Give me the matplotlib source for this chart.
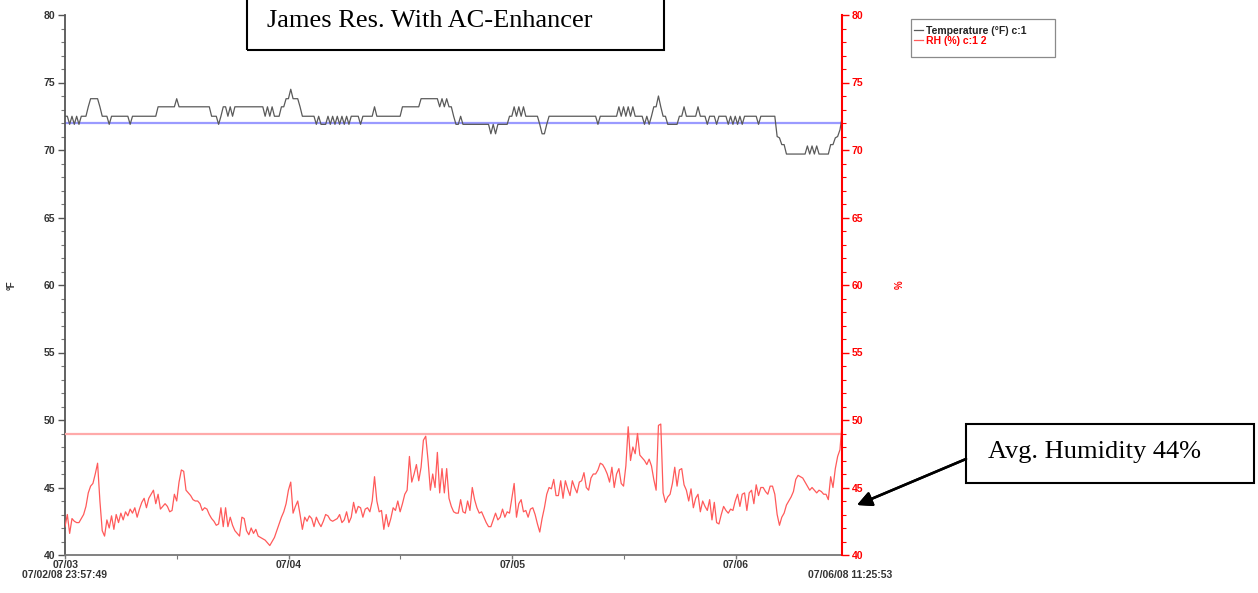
import numpy as np
import pandas as pd
import matplotlib
matplotlib.use("Agg")
import matplotlib.pyplot as plt
import matplotlib.dates as mdates
from matplotlib.patches import Rectangle

# logger run, one reading every 15 min
start = "2008-07-02 23:57:49"
end = "2008-07-06 11:25:53"
interval = "15min"

temp_f = [
    72.5, 72.5, 71.9, 72.5, 71.9, 72.5, 71.9, 72.5, 72.5, 72.5,
    73.2, 73.8, 73.8, 73.8, 73.8, 73.2, 72.5, 72.5, 72.5, 71.9,
    72.5, 72.5, 72.5, 72.5, 72.5, 72.5, 72.5, 72.5, 71.9, 72.5,
    72.5, 72.5, 72.5, 72.5, 72.5, 72.5, 72.5, 72.5, 72.5, 72.5,
    73.2, 73.2, 73.2, 73.2, 73.2, 73.2, 73.2, 73.2, 73.8, 73.2,
    73.2, 73.2, 73.2, 73.2, 73.2, 73.2, 73.2, 73.2, 73.2, 73.2,
    73.2, 73.2, 73.2, 72.5, 72.5, 72.5, 71.9, 72.5, 73.2, 73.2,
    72.5, 73.2, 72.5, 73.2, 73.2, 73.2, 73.2, 73.2, 73.2, 73.2,
    73.2, 73.2, 73.2, 73.2, 73.2, 73.2, 72.5, 73.2, 72.5, 73.2,
    72.5, 72.5, 72.5, 73.2, 73.2, 73.8, 73.8, 74.5, 73.8, 73.8,
    73.8, 73.2, 72.5, 72.5, 72.5, 72.5, 72.5, 72.5, 71.9, 72.5,
    71.9, 71.9, 71.9, 72.5, 71.9, 72.5, 71.9, 72.5, 71.9, 72.5,
    71.9, 72.5, 71.9, 72.5, 72.5, 72.5, 72.5, 71.9, 72.5, 72.5,
    72.5, 72.5, 72.5, 73.2, 72.5, 72.5, 72.5, 72.5, 72.5, 72.5,
    72.5, 72.5, 72.5, 72.5, 72.5, 73.2, 73.2, 73.2, 73.2, 73.2,
    73.2, 73.2, 73.2, 73.8, 73.8, 73.8, 73.8, 73.8, 73.8, 73.8,
    73.8, 73.2, 73.8, 73.2, 73.8, 73.2, 73.2, 72.5, 71.9, 71.9,
    72.5, 71.9, 71.9, 71.9, 71.9, 71.9, 71.9, 71.9, 71.9, 71.9,
    71.9, 71.9, 71.9, 71.2, 71.9, 71.2, 71.9, 71.9, 71.9, 71.9,
    71.9, 72.5, 72.5, 73.2, 72.5, 73.2, 72.5, 73.2, 72.5, 72.5,
    72.5, 72.5, 72.5, 72.5, 71.9, 71.2, 71.2, 71.9, 72.5, 72.5,
    72.5, 72.5, 72.5, 72.5, 72.5, 72.5, 72.5, 72.5, 72.5, 72.5,
    72.5, 72.5, 72.5, 72.5, 72.5, 72.5, 72.5, 72.5, 72.5, 71.9,
    72.5, 72.5, 72.5, 72.5, 72.5, 72.5, 72.5, 72.5, 73.2, 72.5,
    73.2, 72.5, 73.2, 72.5, 73.2, 72.5, 72.5, 72.5, 72.5, 71.9,
    72.5, 71.9, 72.5, 73.2, 73.2, 74.0, 73.2, 72.5, 72.5, 71.9,
    71.9, 71.9, 71.9, 71.9, 72.5, 72.5, 73.2, 72.5, 72.5, 72.5,
    72.5, 72.5, 73.2, 72.5, 72.5, 72.5, 71.9, 72.5, 72.5, 72.5,
    71.9, 72.5, 72.5, 72.5, 72.5, 71.9, 72.5, 71.9, 72.5, 71.9,
    72.5, 71.9, 72.5, 72.5, 72.5, 72.5, 72.5, 72.5, 71.9, 72.5,
    72.5, 72.5, 72.5, 72.5, 72.5, 72.5, 71.0, 70.9, 70.4, 70.4,
    69.7, 69.7, 69.7, 69.7, 69.7, 69.7, 69.7, 69.7, 69.7, 70.3,
    69.7, 70.3, 69.7, 70.3, 69.7, 69.7, 69.7, 69.7, 69.7, 70.4,
    70.4, 70.9, 71.0, 71.5, 72.5,
]

rh_pct = [
    42.1, 43.0, 41.6, 42.7, 42.5, 42.4, 42.4, 42.7, 43.0, 43.6,
    44.6, 45.1, 45.3, 46.0, 46.8, 44.0, 41.8, 41.4, 42.6, 42.0,
    42.9, 41.9, 43.0, 42.4, 43.1, 42.6, 43.2, 42.9, 43.4, 43.1,
    43.5, 42.8, 43.4, 43.9, 44.2, 43.5, 44.2, 44.5, 44.8, 43.8,
    44.5, 43.4, 43.6, 43.8, 43.6, 43.2, 43.3, 44.5, 44.0, 45.4,
    46.3, 46.2, 44.8, 44.6, 44.4, 44.1, 44.0, 44.0, 43.8, 43.3,
    43.5, 43.4, 43.0, 42.7, 42.5, 42.2, 42.3, 43.5, 42.1, 43.5,
    42.1, 42.8, 42.2, 41.8, 41.6, 41.4, 42.8, 42.7, 41.8, 41.5,
    42.0, 41.6, 41.9, 41.4, 41.3, 41.2, 41.1, 40.9, 40.7, 41.0,
    41.3, 41.8, 42.3, 42.8, 43.2, 43.8, 44.8, 45.4, 43.1, 43.6,
    44.0, 43.0, 41.9, 42.8, 42.5, 42.9, 42.7, 42.1, 42.8, 42.4,
    42.1, 42.5, 43.0, 42.9, 42.6, 42.5, 42.6, 42.7, 43.0, 42.4,
    42.6, 43.2, 42.4, 42.8, 43.9, 43.1, 43.6, 43.5, 42.8, 43.4,
    43.5, 43.2, 44.0, 45.8, 44.0, 43.2, 43.3, 41.9, 43.0, 42.1,
    42.7, 43.5, 43.3, 44.0, 43.2, 43.8, 44.5, 44.8, 47.3, 45.4,
    46.0, 46.7, 45.5, 46.5, 48.5, 48.8, 47.0, 44.8, 46.0, 45.0,
    47.6, 44.6, 46.4, 44.6, 46.4, 44.2, 43.6, 43.2, 43.1, 43.1,
    44.1, 43.2, 43.1, 44.0, 43.3, 45.0, 44.1, 43.5, 43.1, 43.2,
    42.8, 42.4, 42.1, 42.1, 42.6, 43.1, 42.6, 42.8, 43.4, 42.8,
    43.2, 43.1, 44.2, 45.3, 42.8, 43.8, 44.1, 43.2, 43.3, 42.8,
    43.4, 43.5, 43.0, 42.3, 41.7, 42.7, 43.5, 44.5, 45.0, 44.9,
    45.6, 44.4, 44.4, 45.5, 44.2, 45.5, 44.9, 44.4, 45.5, 45.0,
    44.6, 45.4, 45.5, 46.1, 45.0, 44.8, 45.7, 46.0, 46.0, 46.3,
    46.8, 46.7, 46.4, 46.0, 45.4, 46.5, 45.0, 46.0, 46.4, 45.3,
    45.1, 46.6, 49.5, 47.0, 48.0, 47.5, 49.0, 47.4, 47.2, 47.0,
    46.7, 47.1, 46.6, 45.6, 44.8, 49.6, 49.7, 44.6, 43.9, 44.3,
    44.5, 45.3, 46.5, 45.1, 46.3, 46.4, 45.2, 44.8, 44.0, 44.9,
    43.5, 44.2, 44.5, 43.2, 44.0, 43.6, 43.3, 44.1, 42.6, 43.9,
    42.4, 42.3, 43.0, 43.6, 43.3, 43.1, 43.4, 43.3, 44.0, 44.5,
    43.6, 44.5, 44.6, 43.3, 44.6, 44.8, 43.8, 45.2, 44.4, 45.0,
    45.0, 44.7, 44.5, 45.1, 45.1, 44.5, 43.0, 42.2, 42.8, 43.1,
    43.7, 44.0, 44.3, 44.7, 45.6, 45.9, 45.8, 45.7, 45.4, 45.1,
    44.8, 45.0, 44.8, 44.6, 44.8, 44.7, 44.5, 44.5, 44.1, 45.8,
    45.0, 46.4, 47.3, 47.8, 50.0,
]

temp_ref = 72.0   # blue reference line
rh_ref = 49.0     # red reference line

title = "James Res. With AC-Enhancer"
note = "Avg. Humidity 44%"

times = pd.date_range(start, periods=len(temp_f), freq=interval)

plt.rcParams['font.family'] = ['Liberation Sans', 'DejaVu Sans']

fig = plt.figure(figsize=(12.58, 5.93), dpi=100)
ax = fig.add_axes([65/1258, 1-555/593, 777/1258, 540/593])
ax2 = ax.twinx()

ax.plot(times, [temp_ref]*len(times), color='#9a9aff', lw=1.6)
ax.plot(times, temp_f, color='#5a5a5a', lw=0.9, label='Temperature (°F) c:1')
ax2.plot(times, [rh_ref]*len(times), color='#ffaaaa', lw=1.6)
ax2.plot(times, rh_pct, color='#ff5a5a', lw=0.9, label='RH (%) c:1 2')

for a in (ax, ax2):
    a.set_ylim(40, 80)
    a.set_xlim(pd.Timestamp(start), pd.Timestamp(end))
    a.yaxis.set_major_locator(plt.MultipleLocator(5))
    a.yaxis.set_minor_locator(plt.MultipleLocator(1))
    a.spines['top'].set_visible(False)

ax.xaxis.set_major_locator(mdates.DayLocator())
ax.xaxis.set_major_formatter(mdates.DateFormatter('%m/%d'))
ax.xaxis.set_minor_locator(mdates.HourLocator(byhour=[12]))

ax.spines['left'].set_color('#555555')
ax.spines['left'].set_linewidth(1.3)
ax.spines['bottom'].set_color('#777777')
ax.spines['bottom'].set_linewidth(1.3)
ax.spines['right'].set_visible(False)
ax2.spines['left'].set_visible(False)
ax2.spines['bottom'].set_visible(False)
ax2.spines['right'].set_color('red')
ax2.spines['right'].set_linewidth(1.5)

ax.tick_params(axis='y', which='major', length=5, width=1, color='#555555', labelsize=7.5, pad=2)
ax.tick_params(axis='y', which='minor', length=3, width=0.8, color='#777777')
ax.tick_params(axis='x', which='major', length=3, width=1, color='#777777', labelsize=7.5, pad=0.5)
ax.tick_params(axis='x', which='minor', length=3, width=0.8, color='#777777')
ax2.tick_params(axis='y', which='major', length=5, width=1, colors='red', labelsize=7.5, pad=2)
ax2.tick_params(axis='y', which='minor', length=3, width=0.8, color='red')
for lab in ax.get_xticklabels() + ax.get_yticklabels() + ax2.get_yticklabels():
    lab.set_fontweight('bold')
for lab in ax.get_yticklabels() + ax.get_xticklabels():
    lab.set_color('#333333')

ax.set_ylabel('°F', fontsize=7, fontweight='bold', color='#333333')
ax.yaxis.set_label_coords(-0.062, 0.5)
ax2.set_ylabel('%', fontsize=7, fontweight='bold', color='red')
ax2.yaxis.set_label_coords(1.068, 0.5)

ax.text(0, -0.028, '07/02/08 23:57:49', transform=ax.transAxes, ha='center', va='top',
        fontsize=7.5, fontweight='bold', color='#333333')
ax.text(1.01, -0.028, '07/06/08 11:25:53', transform=ax.transAxes, ha='center', va='top',
        fontsize=7.5, fontweight='bold', color='#333333')

# legend: entries packed tight inside a taller box
h1, l1 = ax.get_legend_handles_labels()
h2, l2 = ax2.get_legend_handles_labels()
leg = fig.legend(h1 + h2, l1 + l2, loc='upper left', bbox_to_anchor=(912/1258, 1-24/593),
                 fontsize=7.5, frameon=False, handlelength=0.9, handletextpad=0.2,
                 borderpad=0.2, labelspacing=-0.05, borderaxespad=0)
for txt, c in zip(leg.get_texts(), ['#222222', 'red']):
    txt.set_color(c)
    txt.set_fontweight('bold')
fig.patches.append(Rectangle((911/1258, 1-57/593), (1055-911)/1258, 38/593,
                             transform=fig.transFigure, fill=False, lw=0.9,
                             edgecolor='#8a8a8a'))

# title box (top edge runs off the page)
fig.patches.append(Rectangle((247/1258, 1-50/593), (664-247)/1258, 60/593,
                             transform=fig.transFigure, fill=False, lw=1.5,
                             edgecolor='black', clip_on=False))
fig.text(267/1258, 1-21/593, title, family='Liberation Serif', fontsize=19,
         ha='left', va='center')

# note box with arrow
fig.patches.append(Rectangle((966/1258, 1-483/593), (1254-966)/1258, 59/593,
                             transform=fig.transFigure, fill=False, lw=1.5,
                             edgecolor='black'))
fig.text(988/1258, 1-452/593, note, family='Liberation Serif', fontsize=19,
         ha='left', va='center')
fig.add_artist(plt.annotate('', xy=(857/1258, 1-505/593), xytext=(966/1258, 1-459/593),
                            xycoords='figure fraction', textcoords='figure fraction',
                            arrowprops=dict(arrowstyle='-|>', color='black', lw=1.8,
                                            mutation_scale=22, shrinkA=0, shrinkB=0)))

fig.savefig('out.png', dpi=100)
